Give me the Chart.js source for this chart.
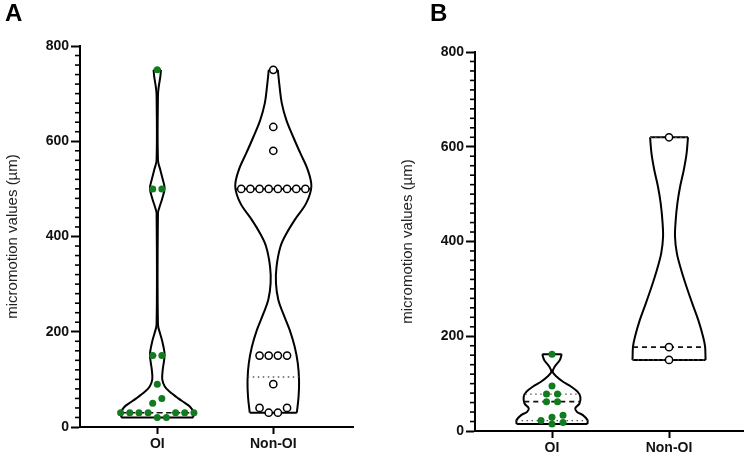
<!DOCTYPE html>
<html>
<head>
<meta charset="utf-8">
<script src="https://cdn.jsdelivr.net/npm/chart.js@4.4.1/dist/chart.umd.min.js"></script>
<style>
  body { margin: 0; background: #fff; }
  #wrap { position: relative; width: 749px; height: 454px; overflow: hidden; }
  canvas { position: absolute; top: 0; }
  #chartA { left: 0; }
  #chartB { left: 375px; }
  .tag { position: absolute; font: bold 24px 'Liberation Sans', Arial, sans-serif; line-height: 24px; color: #000; }
</style>
</head>
<body>
<div id="wrap">
  <canvas id="chartA" width="370" height="454"></canvas>
  <canvas id="chartB" width="374" height="454"></canvas>
  <div class="tag" style="left:5px; top:1px">A</div>
  <div class="tag" style="left:430px; top:1px">B</div>
</div>
<script>
// ---- data ----
const groups = ['OI', 'Non-OI'];
const yTitle = 'micromotion values (µm)';

// panel A points
const oiA = [750, 500, 500, 150, 150, 90, 60, 50, 30, 30, 30, 30, 30, 30, 30, 20, 20];
const nonOiA = [750, 630, 580, 500, 500, 500, 500, 500, 500, 500, 500, 150, 150, 150, 150, 90, 40, 40, 30, 30];

// panel B points
const oiB = [162, 95, 78, 78, 62, 62, 33, 29, 22, 18, 15];
const nonOiB = [620, 177, 150];

// violin outlines (value levels, top to bottom, and half widths in category units)
const oiAY = [750, 735, 715, 697, 560, 540, 520, 501, 480, 460, 449, 215, 195, 180, 160, 150, 135, 120, 100, 85, 75, 60, 50, 42, 32, 20];
const oiAW = [0.032, 0.026, 0.013, 0.006, 0.006, 0.026, 0.047, 0.063, 0.043, 0.017, 0.006, 0.006, 0.026, 0.043, 0.060, 0.063, 0.056, 0.047, 0.043, 0.065, 0.103, 0.181, 0.241, 0.284, 0.310, 0.310];

const nonOiAY = [750, 715, 680, 645, 610, 575, 540, 505, 470, 435, 407, 379, 337, 302, 267, 239, 204, 169, 134, 99, 64, 30];
const nonOiAW = [0.039, 0.054, 0.073, 0.112, 0.170, 0.233, 0.297, 0.328, 0.284, 0.185, 0.115, 0.062, 0.028, 0.023, 0.043, 0.084, 0.141, 0.184, 0.211, 0.222, 0.218, 0.203];

const oiBY = [162, 150, 136, 125, 115, 104, 94, 83, 72, 58, 48, 40, 34, 23, 15];
const oiBW = [0.083, 0.067, 0.024, 0.006, 0.038, 0.094, 0.162, 0.218, 0.242, 0.235, 0.199, 0.214, 0.261, 0.303, 0.303];

const nonOiBY = [620, 586, 551, 515, 480, 445, 410, 375, 340, 304, 269, 234, 199, 178, 150];
const nonOiBW = [0.162, 0.150, 0.126, 0.094, 0.071, 0.057, 0.051, 0.067, 0.104, 0.150, 0.199, 0.250, 0.291, 0.308, 0.312];

// ---- helpers ----
const GREEN = '#127a1f';
const FONT = "'Liberation Sans', Arial, sans-serif";

// quartiles, (n+1)p method
function quant(vals, p) {
  const s = [...vals].sort((a, b) => a - b);
  const n = s.length;
  const pos = (n + 1) * p;
  const lo = Math.floor(pos);
  if (lo < 1) return s[0];
  if (lo >= n) return s[n - 1];
  return s[lo - 1] + (pos - lo) * (s[lo] - s[lo - 1]);
}

function widthAt(ys, ws, v) {
  for (let i = 0; i < ys.length - 1; i++) {
    if (v <= ys[i] && v >= ys[i + 1]) {
      const t = (ys[i] - v) / (ys[i] - ys[i + 1]);
      return ws[i] + t * (ws[i + 1] - ws[i]);
    }
  }
  return v >= ys[0] ? ws[0] : ws[ws.length - 1];
}

// simple beeswarm: stack dots sideways when they would overlap
function swarm(values, center, step, gap) {
  const sorted = [...values].sort((a, b) => a - b);
  const slots = [0];
  for (let j = 1; j < 20; j++) slots.push(j, -j);
  const placed = [];
  for (const v of sorted) {
    for (const k of slots) {
      if (!placed.some(p => p.k === k && Math.abs(p.y - v) < gap)) {
        placed.push({ y: v, k });
        break;
      }
    }
  }
  let start = 0;
  for (let i = 1; i <= placed.length; i++) {
    if (i === placed.length || placed[i].y - placed[i - 1].y >= gap) {
      const c = placed.slice(start, i);
      const ks = c.map(p => p.k);
      const mid = (Math.min(...ks) + Math.max(...ks)) / 2;
      c.forEach(p => p.k -= mid);
      start = i;
    }
  }
  return placed.map(p => ({ x: center + p.k * step, y: p.y }));
}

function line(data, extra) {
  return Object.assign({
    data, showLine: true, pointRadius: 0, borderColor: '#000',
    borderWidth: 2, tension: 0, fill: false
  }, extra || {});
}

function violin(center, ys, ws) {
  const left = ys.map((y, i) => ({ x: center - ws[i], y }));
  const right = ys.map((y, i) => ({ x: center + ws[i], y }));
  const last = ys.length - 1;
  return [
    line(left, { tension: 0.35 }),
    line(right, { tension: 0.35 }),
    line([left[0], right[0]]),
    line([left[last], right[last]])
  ];
}

function statLines(center, vals, ys, ws) {
  const q1 = quant(vals, 0.25), med = quant(vals, 0.5), q3 = quant(vals, 0.75);
  const seg = (v, dash, w, col) => {
    const h = widthAt(ys, ws, v);
    return line([{ x: center - h, y: v }, { x: center + h, y: v }],
      { borderDash: dash, borderWidth: w, borderColor: col });
  };
  return [
    seg(med, [5, 4], 1.6, '#111'),
    seg(q1, [1.5, 3.5], 1.3, '#555'),
    seg(q3, [1.5, 3.5], 1.3, '#555')
  ];
}

const minorTicks = {
  id: 'minorTicks',
  afterDraw(chart) {
    const s = chart.scales.y, ctx = chart.ctx;
    ctx.save();
    ctx.strokeStyle = '#000';
    ctx.lineWidth = 1.6;
    for (let v = s.min; v <= s.max; v += 20) {
      if (v % 200 === 0) continue;
      const p = s.getPixelForValue(v);
      ctx.beginPath();
      ctx.moveTo(s.right - 5, p);
      ctx.lineTo(s.right, p);
      ctx.stroke();
    }
    ctx.restore();
  }
};

function makeChart(id, p) {
  const dotsOi = {
    data: swarm(p.oi, 1, p.step, 11), pointRadius: 3.5, pointHoverRadius: 3.5,
    backgroundColor: GREEN, borderColor: GREEN, borderWidth: 0
  };
  const dotsNon = {
    data: swarm(p.non, 2, p.step, 11), pointRadius: 3.6, pointHoverRadius: 3.6,
    backgroundColor: '#fff', borderColor: '#000', borderWidth: 1.5
  };
  const datasets = [dotsOi, dotsNon]
    .concat(statLines(1, p.oi, p.oiY, p.oiW))
    .concat(statLines(2, p.non, p.nonY, p.nonW))
    .concat(violin(1, p.oiY, p.oiW))
    .concat(violin(2, p.nonY, p.nonW));

  return new Chart(document.getElementById(id), {
    type: 'scatter',
    data: { datasets },
    plugins: [minorTicks],
    options: {
      responsive: false,
      animation: false,
      layout: { padding: { top: p.padTop, right: p.padRight, left: 0, bottom: 0 } },
      plugins: { legend: { display: false }, tooltip: { enabled: false } },
      scales: {
        x: {
          type: 'linear', min: p.xMin, max: p.xMax,
          afterBuildTicks: s => { s.ticks = [{ value: 1 }, { value: 2 }]; },
          afterFit: s => { s.height = p.xH; },
          ticks: {
            callback: v => groups[v - 1], color: '#111', padding: 2,
            font: { family: FONT, size: 14, weight: 'bold' }, maxRotation: 0
          },
          grid: { drawOnChartArea: false, tickLength: 7, tickWidth: 2, tickColor: '#000' },
          border: { color: '#000', width: 2 }
        },
        y: {
          min: 0, max: 800,
          afterFit: s => { s.width = p.yW; },
          ticks: {
            stepSize: 200, color: '#111', padding: 2,
            font: { family: FONT, size: 14, weight: 'bold' }
          },
          grid: { drawOnChartArea: false, tickLength: 9, tickWidth: 2, tickColor: '#000' },
          border: { color: '#000', width: 2 },
          title: {
            display: true, text: yTitle, color: '#222',
            font: { family: FONT, size: 15 }, padding: { top: p.titlePad, bottom: 0 }
          }
        }
      }
    }
  });
}

makeChart('chartA', {
  oi: oiA, non: nonOiA, oiY: oiAY, oiW: oiAW, nonY: nonOiAY, nonW: nonOiAW,
  xMin: 0.334, xMax: 2.687, yW: 80, xH: 27, padTop: 46, padRight: 17,
  titlePad: 4, step: 0.079
});

makeChart('chartB', {
  oi: oiB, non: nonOiB, oiY: oiBY, oiW: oiBW, nonY: nonOiBY, nonW: nonOiBW,
  xMin: 0.342, xMax: 2.632, yW: 100, xH: 23, padTop: 52, padRight: 6,
  titlePad: 24, step: 0.094
});
</script>
</body>
</html>
